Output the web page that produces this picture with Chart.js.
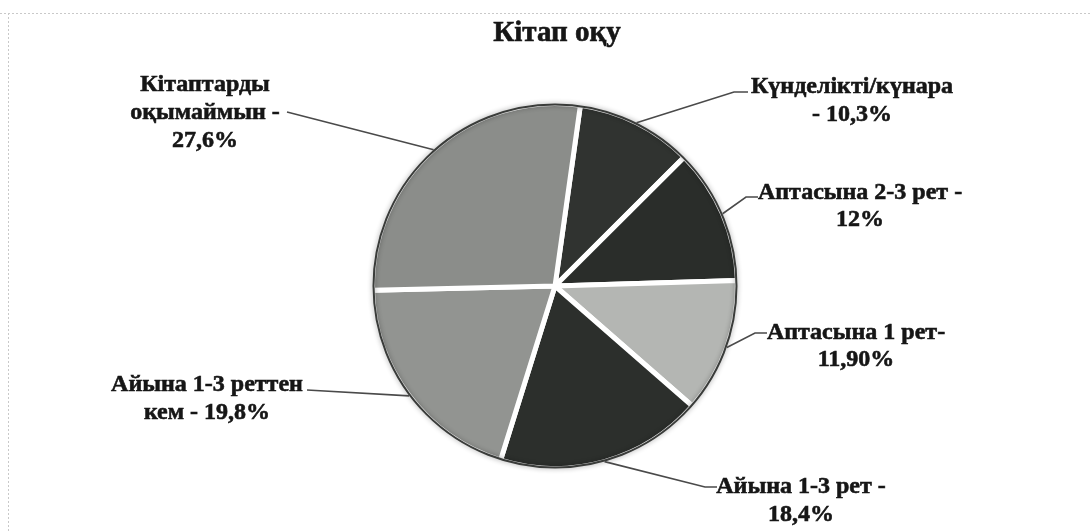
<!DOCTYPE html>
<html>
<head>
<meta charset="utf-8">
<script src="https://cdn.jsdelivr.net/npm/chart.js@4.4.0/dist/chart.umd.min.js"></script>
<style>
  html, body { margin: 0; padding: 0; background: #fff; }
  #wrap { width: 1091px; height: 531px; position: relative; }
</style>
</head>
<body>
<div id="wrap"><canvas id="pie" width="1091" height="531"></canvas></div>
<script>
// --- Data ---
const chartTitle = 'Кітап оқу';
const categories = [
    ['Күнделікті/күнара', '- 10,3%'],
    ['Аптасына 2-3 рет -', '12%'],
    ['Аптасына 1 рет-', '11,90%'],
    ['Айына 1-3 рет -', '18,4%'],
    ['Айына 1-3 реттен', 'кем - 19,8%'],
    ['Кітаптарды', 'оқымаймын -', '27,6%']
];
const values = [10.3, 12, 11.9, 18.4, 19.8, 27.6];
const sliceColors = ['#303330', '#2a2d2a', '#b4b6b3', '#2c2f2c', '#929491', '#8b8d8a'];

// --- Layout for labels (text centre, first line y, line step, leader start, elbow) ---
const labelPos = [
    { x: 852, y: 87,  step: 28, lx: 748, ly: 92,  el: -14 },
    { x: 860, y: 193, step: 27, lx: 758, ly: 197, el: -12 },
    { x: 856, y: 333, step: 27, lx: 767, ly: 333, el: -12 },
    { x: 801, y: 487, step: 28, lx: 717, ly: 487, el: -12 },
    { x: 207, y: 385, step: 28, lx: 307, ly: 390, el: 0 },
    { x: 205, y: 85,  step: 28, lx: 287, ly: 112, el: 0 }
];

// dark rim with a soft scan halo
const rimPlugin = {
    id: 'rim',
    afterDatasetsDraw(chart) {
        const arc = chart.getDatasetMeta(0).data[0];
        const c = chart.ctx;
        c.save();
        c.beginPath();
        c.arc(arc.x, arc.y, arc.outerRadius - 1, 0, Math.PI * 2);
        c.shadowColor = 'rgba(0,0,0,0.45)';
        c.shadowBlur = 5;
        c.lineWidth = 2;
        c.strokeStyle = '#3a3c3a';
        c.stroke();
        c.restore();
    }
};

// title, labels and leader lines
const labelPlugin = {
    id: 'labels',
    afterDraw(chart) {
        const c = chart.ctx;
        const meta = chart.getDatasetMeta(0);
        c.save();
        // faint frame left over from the scanned page
        c.strokeStyle = '#c9c9c9';
        c.lineWidth = 1;
        c.setLineDash([2, 2]);
        c.beginPath();
        c.moveTo(0, 13.5); c.lineTo(1091, 13.5);
        c.moveTo(8.5, 13); c.lineTo(8.5, 531);
        c.stroke();
        c.setLineDash([]);

        c.fillStyle = '#161616';
        c.strokeStyle = '#161616';
        c.lineWidth = 0.6;
        c.textAlign = 'center';
        c.textBaseline = 'middle';
        c.font = 'bold 29px "Liberation Serif"';
        c.fillText(chartTitle, 557, 34);
        c.strokeText(chartTitle, 557, 34);

        c.font = 'bold 24px "Liberation Serif"';
        meta.data.forEach((arc, i) => {
            const p = labelPos[i];
            categories[i].forEach((line, j) => {
                c.fillText(line, p.x, p.y + j * p.step);
                c.strokeText(line, p.x, p.y + j * p.step);
            });
        });

        // leader lines from label to the middle of each slice edge
        c.strokeStyle = '#4a4a4a';
        c.lineWidth = 1.6;
        meta.data.forEach((arc, i) => {
            const p = labelPos[i];
            const mid = (arc.startAngle + arc.endAngle) / 2;
            const ex = arc.x + arc.outerRadius * Math.cos(mid);
            const ey = arc.y + arc.outerRadius * Math.sin(mid);
            c.beginPath();
            c.moveTo(p.lx, p.ly);
            if (p.el) c.lineTo(p.lx + p.el, p.ly);
            c.lineTo(ex, ey);
            c.stroke();
        });
        c.restore();
    }
};

const ctx = document.getElementById('pie').getContext('2d');
const chart = new Chart(ctx, {
    type: 'pie',
    data: {
        labels: categories.map(l => l.join(' ')),
        datasets: [{
            data: values,
            backgroundColor: sliceColors,
            borderColor: '#ffffff',
            borderWidth: 5
        }]
    },
    options: {
        responsive: false,
        animation: false,
        rotation: 8,
        layout: { padding: { top: 101, bottom: 60, left: 19, right: 0 } },
        plugins: {
            legend: { display: false },
            tooltip: { enabled: false }
        }
    },
    plugins: [rimPlugin, labelPlugin]
});
</script>
</body>
</html>
